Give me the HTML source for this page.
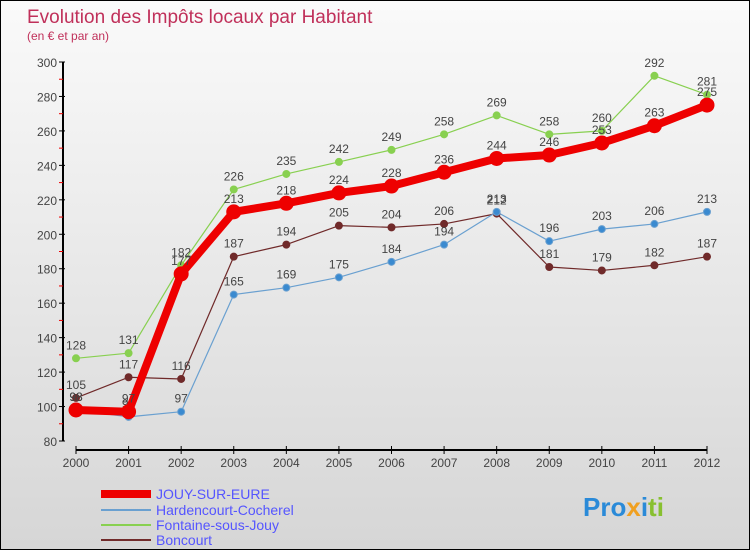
<!DOCTYPE html>
<html><head><meta charset="utf-8">
<style>
body{margin:0;width:750px;height:550px;overflow:hidden;font-family:"Liberation Sans",sans-serif}
#c{position:absolute;left:0;top:0;width:748px;height:548px;border:1px solid #000;background:linear-gradient(#fafafa,#d6d6d6)}
</style></head><body>
<div id="c">
<svg width="750" height="550" id="s">
<text x="26" y="22" font-size="19" fill="#c0305a">Evolution des Impôts locaux par Habitant</text>
<text x="26" y="39" font-size="12" fill="#c0305a">(en € et par an)</text>
<g id="ax"></g><g id="series"></g>
<g>
<line x1="100" y1="493" x2="150" y2="493" stroke="#e00" stroke-width="8"/>
<text x="155" y="498" font-size="14" fill="#55f">JOUY-SUR-EURE</text>
<line x1="100" y1="509" x2="150" y2="509" stroke="#6aa0d0" stroke-width="2"/>
<text x="155" y="514" font-size="14" fill="#55f">Hardencourt-Cocherel</text>
<line x1="100" y1="524" x2="150" y2="524" stroke="#88d050" stroke-width="2"/>
<text x="155" y="529" font-size="14" fill="#55f">Fontaine-sous-Jouy</text>
<line x1="100" y1="539" x2="150" y2="539" stroke="#702a2a" stroke-width="2"/>
<text x="155" y="544" font-size="14" fill="#55f">Boncourt</text>
</g>
<text x="582" y="515" font-size="26" font-weight="bold"><tspan fill="#2a8ad8">Pro</tspan><tspan fill="#f0a020">x</tspan><tspan fill="#2a8ad8">i</tspan><tspan fill="#88c030">ti</tspan></text>
</svg></div>
<script>
const years=[2000,2001,2002,2003,2004,2005,2006,2007,2008,2009,2010,2011,2012];
const jouy=[98,97,177,213,218,224,228,236,244,246,253,263,275];
const harden=[98,94,97,165,169,175,184,194,213,196,203,206,213];
const fontaine=[128,131,182,226,235,242,249,258,269,258,260,292,281];
const boncourt=[105,117,116,187,194,205,204,206,212,181,179,182,187];
const yTicks=[80,100,120,140,160,180,200,220,240,260,280,300];
const NS="http://www.w3.org/2000/svg";
const X=i=>75+i*(706-75)/(years.length-1);
const Y=v=>440-(v-80)*379/220;
function mk(t,a,p){const e=document.createElementNS(NS,t);for(const k in a)e.setAttribute(k,a[k]);p.appendChild(e);return e;}
const ax=document.getElementById('ax');
const yl=mk('line',{x1:62,y1:Y(300),x2:62,y2:440,stroke:'#000','stroke-width':2},ax);


const xl=mk('line',{x1:75,y1:449,x2:706,y2:449,stroke:'#000','stroke-width':2},ax);


yTicks.forEach(v=>{
 mk('line',{x1:58,y1:Y(v),x2:64,y2:Y(v),stroke:'#000'},ax);
 mk('line',{x1:58,y1:Y(v+10),x2:62,y2:Y(v+10),stroke:v<300?'#e00':'none'},ax);
 const t=mk('text',{x:56,y:Y(v)+5,'font-size':12,fill:'#444','text-anchor':'end'},ax);t.textContent=v;
 
 
});
years.forEach((y,i)=>{
 mk('line',{x1:X(i),y1:445,x2:X(i),y2:453,stroke:'#000'},ax);
 const t=mk('text',{x:X(i),y:466,'font-size':12,fill:'#444','text-anchor':'middle'},ax);t.textContent=y;
 
 
});
const sg=document.getElementById('series');
function series(d,col,w,r,name,dot){
 const g=mk('g',{},sg);
 
 
 mk('polyline',{points:d.map((v,i)=>X(i)+','+Y(v)).join(' '),fill:'none',stroke:col,'stroke-width':w,'stroke-linejoin':'round'},g);
 d.forEach((v,i)=>{
  const c=mk('circle',{cx:X(i),cy:Y(v),r:r,fill:dot,stroke:col,'stroke-width':1},g);
  
  
  const t=mk('text',{x:X(i),y:Y(v)-9,'font-size':12,fill:'#444','text-anchor':'middle'},g);t.textContent=v;
  
  
 });
}
series(boncourt,'#702a2a',1.2,3.5,'series-boncourt','#702a2a');
series(harden,'#6aa0d0',1.2,3.5,'series-hardencourt','#3a8ad0');
series(fontaine,'#88d050',1.2,3.5,'series-fontaine','#88d050');
series(jouy,'#e00',8,7,'series-jouy','#e00');
</script>
</body></html>
